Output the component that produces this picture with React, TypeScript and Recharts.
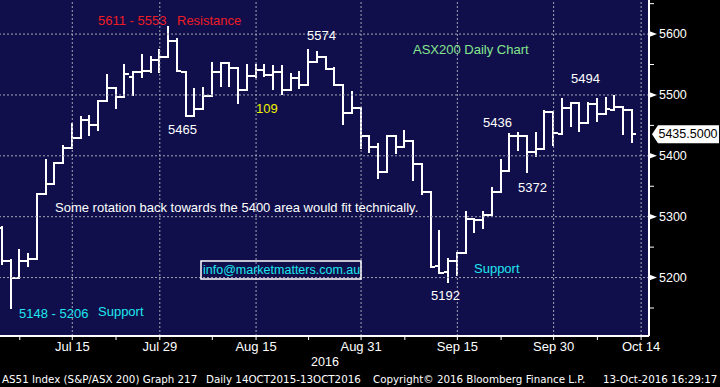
import { ComposedChart, Bar, XAxis, YAxis, ReferenceLine } from "recharts";

// ASX200 daily bars, 5 Jul - 13 Oct 2016 (trading days only)
const dates = [
  "Jul 5", "Jul 6", "Jul 7", "Jul 8", "Jul 11", "Jul 12", "Jul 13", "Jul 14", "Jul 15",
  "Jul 18", "Jul 19", "Jul 20", "Jul 21", "Jul 22", "Jul 25", "Jul 26", "Jul 27", "Jul 28", "Jul 29",
  "Aug 1", "Aug 2", "Aug 3", "Aug 4", "Aug 5", "Aug 8", "Aug 9", "Aug 10", "Aug 11", "Aug 12",
  "Aug 15", "Aug 16", "Aug 17", "Aug 18", "Aug 19", "Aug 22", "Aug 23", "Aug 24", "Aug 25", "Aug 26",
  "Aug 29", "Aug 30", "Aug 31", "Sep 1", "Sep 2", "Sep 5", "Sep 6", "Sep 7", "Sep 8", "Sep 9",
  "Sep 12", "Sep 13", "Sep 14", "Sep 15", "Sep 16", "Sep 19", "Sep 20", "Sep 21", "Sep 22", "Sep 23",
  "Sep 26", "Sep 27", "Sep 28", "Sep 29", "Sep 30", "Oct 3", "Oct 4", "Oct 5", "Oct 6", "Oct 7",
  "Oct 10", "Oct 11", "Oct 12", "Oct 13",
];

const opens = [
  5281, 5228, 5199, 5228, 5231, 5337, 5353, 5389, 5413,
  5430, 5459, 5451, 5490, 5512, 5497, 5530, 5537, 5540, 5557,
  5562, 5589, 5538, 5466, 5477, 5498, 5538, 5553, 5544, 5508,
  5531, 5541, 5533, 5537, 5508, 5528, 5516, 5554, 5562, 5542,
  5516, 5471, 5478, 5433, 5415, 5373, 5432, 5414, 5424, 5386,
  5340, 5219, 5209, 5228, 5240, 5296, 5295, 5303, 5340, 5375,
  5432, 5432, 5407, 5412, 5472, 5436, 5478, 5486, 5454, 5485,
  5468, 5475, 5480, 5475,
];

const highs = [
  5283, 5229, 5245, 5238, 5337, 5393, 5389, 5416, 5453,
  5463, 5466, 5490, 5533, 5512, 5549, 5537, 5566, 5563, 5574,
  5612, 5592, 5538, 5510, 5511, 5552, 5553, 5553, 5544, 5549,
  5549, 5550, 5547, 5547, 5535, 5538, 5574, 5570, 5562, 5544,
  5516, 5505, 5478, 5433, 5419, 5432, 5432, 5441, 5424, 5386,
  5340, 5276, 5230, 5240, 5307, 5296, 5307, 5347, 5393, 5436,
  5437, 5432, 5437, 5473, 5472, 5494, 5486, 5486, 5486, 5494,
  5495, 5499, 5480, 5475,
];

const lows = [
  5223, 5150, 5199, 5219, 5231, 5337, 5353, 5389, 5413,
  5430, 5435, 5442, 5490, 5479, 5497, 5500, 5530, 5538, 5538,
  5562, 5540, 5466, 5466, 5477, 5498, 5514, 5514, 5486, 5508,
  5530, 5531, 5509, 5501, 5508, 5511, 5516, 5554, 5542, 5516,
  5453, 5471, 5413, 5407, 5363, 5373, 5405, 5414, 5360, 5337,
  5218, 5208, 5192, 5205, 5240, 5275, 5281, 5303, 5340, 5375,
  5409, 5374, 5400, 5412, 5418, 5436, 5449, 5441, 5454, 5458,
  5468, 5475, 5436, 5422,
];

const closes = [
  5228, 5199, 5228, 5231, 5337, 5353, 5389, 5413, 5430,
  5459, 5451, 5490, 5512, 5497, 5535, 5537, 5540, 5557, 5562,
  5589, 5540, 5466, 5477, 5498, 5538, 5553, 5544, 5508, 5531,
  5541, 5533, 5537, 5508, 5528, 5516, 5554, 5562, 5542, 5516,
  5471, 5478, 5433, 5415, 5373, 5432, 5414, 5424, 5386, 5340,
  5218, 5208, 5228, 5240, 5296, 5295, 5303, 5340, 5375, 5432,
  5432, 5407, 5412, 5472, 5438, 5478, 5486, 5454, 5485, 5468,
  5477, 5480, 5475, 5436,
];

// x positions are trading-day indexes (Jul 5 = 0, Oct 14 = 73)
const majorTicks = [8, 18, 29, 41, 52, 63, 73];
const majorLabels = ["Jul 15", "Jul 29", "Aug 15", "Aug 31", "Sep 15", "Sep 30", "Oct 14"];
const minorTicks = [2, 13, 24, 35, 46, 57, 68];

const priceTicks = [5200, 5300, 5400, 5500, 5600];
const priceMinorTicks = [5150, 5250, 5350, 5450, 5550, 5650];
const lastPrice = 5435.5;

const rows = dates.map((date, i) => ({
  i,
  date,
  open: opens[i],
  high: highs[i],
  low: lows[i],
  close: closes[i],
  range: [lows[i], highs[i]],
}));

const NAVY = "#100f4b";
const GRID = "#a4a4b4";
const ARIAL = "'Liberation Sans', Arial, sans-serif";
const DEJAVU = "'DejaVu Sans', Verdana, sans-serif";
const HALF = 4.4;

const OhlcBar = (props: any) => {
  const { x, y, width, height, payload } = props;
  if (payload == null) return null;
  const top = Math.min(y, y + height);
  const bot = Math.max(y, y + height);
  const span = payload.high - payload.low;
  const k = span > 0 ? (bot - top) / span : 0;
  const yOf = (v: number) => top + (payload.high - v) * k;
  const cx = x + width / 2;
  const yo = yOf(payload.open);
  const yc = yOf(payload.close);
  return (
    <g stroke="#ffffff" strokeWidth={2} shapeRendering="crispEdges">
      <line x1={cx} x2={cx} y1={top - 1} y2={bot + 1} />
      <line x1={cx - HALF} x2={cx} y1={yo} y2={yo} />
      <line x1={cx} x2={cx + HALF} y1={yc} y2={yc} />
    </g>
  );
};

const XTick = (props: any) => {
  const { x, y, payload } = props;
  const idx = majorTicks.indexOf(payload.value);
  return (
    <g>
      <line x1={x} x2={x} y1={y} y2={y + 4} stroke="#fff" strokeWidth={1} />
      {idx >= 0 && (
        <text x={x} y={y + 10} textAnchor="middle" dominantBaseline="central" fill="#fff" fontSize={13} fontFamily={ARIAL}>
          {majorLabels[idx]}
        </text>
      )}
    </g>
  );
};

const YTick = (props: any) => {
  const { x, y, payload } = props;
  const v = payload.value;
  if (v === lastPrice) {
    return (
      <g>
        <polygon
          points={`${x + 3},${y} ${x + 9},${y - 9} ${x + 70},${y - 9} ${x + 70},${y + 9} ${x + 9},${y + 9}`}
          fill="#ffffff"
        />
        <text x={x + 39} y={y} textAnchor="middle" dominantBaseline="central" fill="#000" fontSize={12.5} fontFamily={ARIAL}>
          {lastPrice.toFixed(4)}
        </text>
      </g>
    );
  }
  if (priceTicks.includes(v)) {
    return (
      <g>
        <polygon points={`${x},${y - 3} ${x + 8},${y} ${x},${y + 3}`} fill="#fff" />
        <text x={x + 10} y={y} dominantBaseline="central" fill="#fff" fontSize={12.5} fontFamily={ARIAL}>
          {v}
        </text>
      </g>
    );
  }
  return <line x1={x} x2={x + 5} y1={y} y2={y} stroke="#fff" strokeWidth={1} />;
};

const Notes = () => (
  <svg width={720} height={387} style={{ position: "absolute", left: 0, top: 0, pointerEvents: "none" }}>
    <g fontFamily={ARIAL} fontSize={13} dominantBaseline="central">
      <text x={98} y={20} fill="#ee1c25">5611 - 5553</text>
      <text x={177} y={20} fill="#ee1c25">Resistance</text>
      <text x={307} y={35} fill="#fff">5574</text>
      <text x={413} y={49} fill="#86e68e">ASX200 Daily Chart</text>
      <text x={571} y={78} fill="#fff">5494</text>
      <text x={256} y={108} fill="#f2f200">109</text>
      <text x={483} y={122} fill="#fff">5436</text>
      <text x={168} y={129} fill="#fff">5465</text>
      <text x={518} y={187} fill="#fff">5372</text>
      <text x={55} y={207} fill="#fff">Some rotation back towards the 5400 area would fit technically.</text>
      <rect x={201} y={261} width={160} height={18} fill="none" stroke="#fff" strokeWidth={1.5} />
      <text x={203} y={270} fill="#1ee6f0" fontSize={12.5}>info@marketmatters.com.au</text>
      <text x={474} y={268} fill="#1ee6f0">Support</text>
      <text x={431} y={295} fill="#fff">5192</text>
      <text x={19} y={313} fill="#1ee6f0">5148 - 5206</text>
      <text x={98} y={311} fill="#1ee6f0">Support</text>
      <text x={325} y={362} fill="#fff" fontSize={12.5} textAnchor="middle">2016</text>
    </g>
    <g fontFamily={DEJAVU} fontSize={10.3} fill="#fff" dominantBaseline="central">
      <text x={2} y={379}>AS51 Index (S&amp;P/ASX 200) Graph 217</text>
      <text x={206} y={379}>Daily 14OCT2015-13OCT2016</text>
      <text x={373} y={379}>Copyright© 2016 Bloomberg Finance L.P.</text>
      <text x={603} y={379}>13-Oct-2016 16:29:17</text>
    </g>
  </svg>
);

export default function App() {
  return (
    <div style={{ position: "absolute", left: 0, top: 0, width: 720, height: 387, background: "#000", overflow: "hidden" }}>
      <div style={{ position: "absolute", left: 0, top: 0, width: 649, height: 336, background: NAVY }} />
      <div style={{ position: "absolute", left: 0, top: 0 }}>
        <ComposedChart width={720} height={387} data={rows} margin={{ top: 0, right: 0, bottom: 0, left: 0 }}>
          <XAxis
            type="number"
            dataKey="i"
            domain={[-0.26, 73.9]}
            allowDataOverflow
            ticks={[...minorTicks, ...majorTicks].sort((a, b) => a - b)}
            interval={0}
            tick={<XTick />}
            tickLine={false}
            tickSize={0}
            tickMargin={0}
            axisLine={{ stroke: "#fff", strokeWidth: 2 }}
            height={51}
          />
          <YAxis
            type="number"
            orientation="right"
            domain={[5104, 5656]}
            allowDataOverflow
            ticks={[...priceMinorTicks, ...priceTicks, lastPrice].sort((a, b) => a - b)}
            interval={0}
            tick={<YTick />}
            tickLine={false}
            tickSize={0}
            tickMargin={0}
            axisLine={{ stroke: "#fff", strokeWidth: 2 }}
            width={71}
          />
          {priceTicks.map((v) => (
            <ReferenceLine key={`h${v}`} y={v} stroke={GRID} strokeDasharray="2 2" />
          ))}
          {majorTicks.map((v) => (
            <ReferenceLine key={`v${v}`} x={v} stroke={GRID} strokeDasharray="2 2" />
          ))}
          <Bar dataKey="range" barSize={8} shape={<OhlcBar />} isAnimationActive={false} />
        </ComposedChart>
      </div>
      <Notes />
    </div>
  );
}
